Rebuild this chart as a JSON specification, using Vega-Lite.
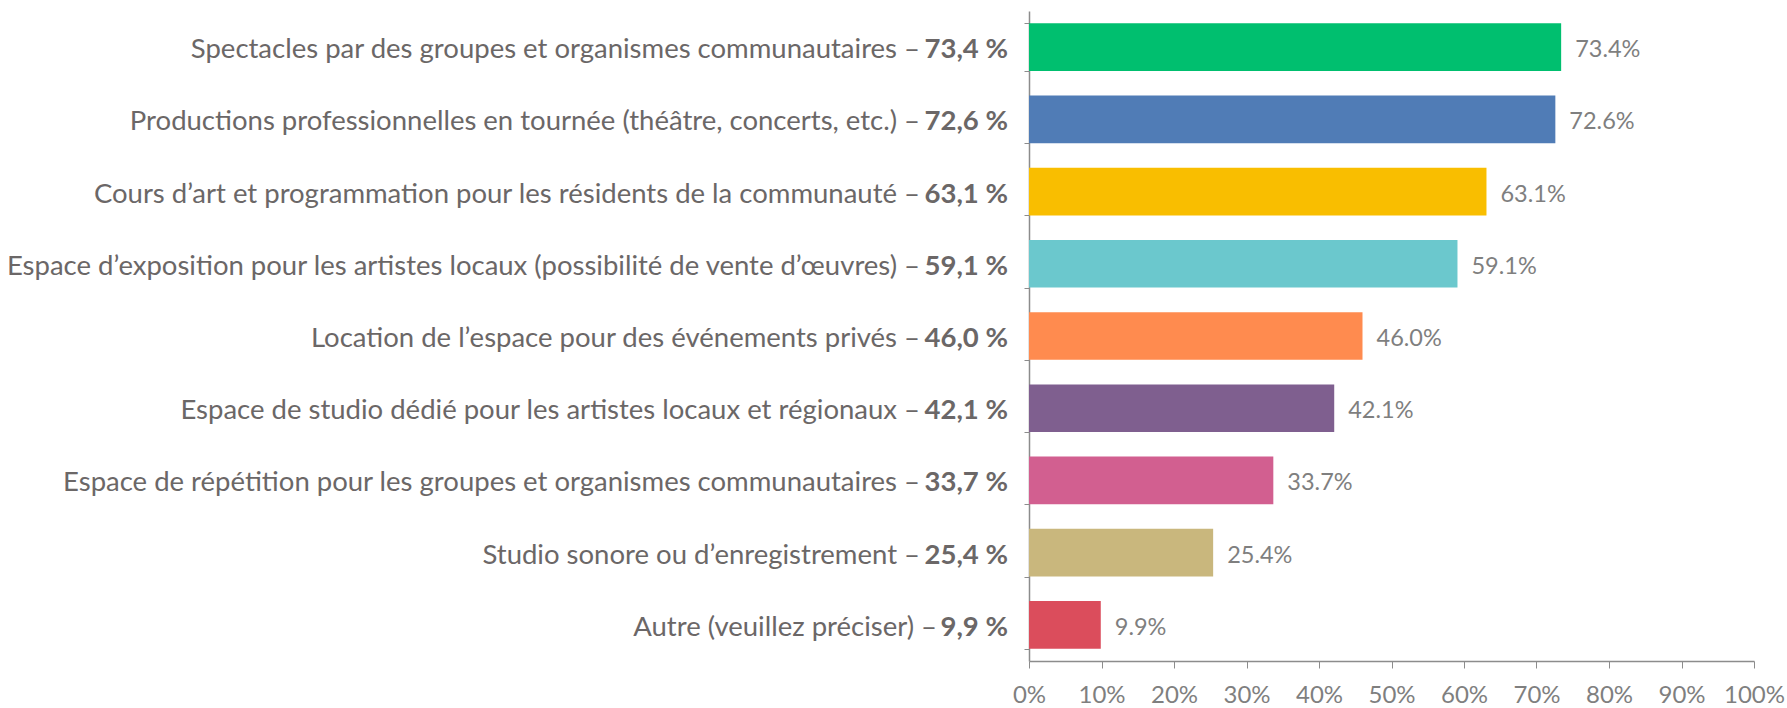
{
  "$schema": "https://vega.github.io/schema/vega-lite/v6.json",
  "width": 725,
  "height": 650,
  "autosize": {"type": "none"},
  "padding": {"left": 1029, "top": 11, "right": 33, "bottom": 47},
  "background": "white",
  "config": {"view": {"stroke": null}, "font": "Lato"},
  "data": {
    "values": [
      {"label": "Spectacles par des groupes et organismes communautaires", "v": 73.4},
      {"label": "Productions professionnelles en tournée (théâtre, concerts, etc.)", "v": 72.6},
      {"label": "Cours d’art et programmation pour les résidents de la communauté", "v": 63.1},
      {"label": "Espace d’exposition pour les artistes locaux (possibilité de vente d’œuvres)", "v": 59.1},
      {"label": "Location de l’espace pour des événements privés", "v": 46.0},
      {"label": "Espace de studio dédié pour les artistes locaux et régionaux", "v": 42.1},
      {"label": "Espace de répétition pour les groupes et organismes communautaires", "v": 33.7},
      {"label": "Studio sonore ou d’enregistrement", "v": 25.4},
      {"label": "Autre (veuillez préciser)", "v": 9.9}
    ]
  },
  "transform": [
    {"calculate": "format(datum.v, '.1f') + '%'", "as": "en"},
    {"calculate": "replace(format(datum.v, '.1f'), '.', ',') + ' %'", "as": "fr"},
    {"calculate": "datum.label + ' –'", "as": "lab"}
  ],
  "encoding": {
    "y": {
      "field": "label",
      "type": "nominal",
      "sort": null,
      "scale": {"paddingInner": 0.34, "paddingOuter": 0.17},
      "axis": {
        "labels": false,
        "title": null,
        "domainColor": "#8c8c8c",
        "domainWidth": 1.5,
        "tickColor": "#8c8c8c",
        "tickSize": 5,
        "tickBand": "extent",
        "bandPosition": 0
      }
    }
  },
  "layer": [
    {
      "mark": {"type": "bar"},
      "encoding": {
        "x": {
          "field": "v",
          "type": "quantitative",
          "scale": {"domain": [0, 100], "nice": false},
          "axis": {
            "title": null,
            "values": [0, 10, 20, 30, 40, 50, 60, 70, 80, 90, 100],
            "labelExpr": "datum.value + '%'",
            "labelOverlap": false,
            "labelBound": false,
            "labelFlush": false,
            "grid": false,
            "domainColor": "#8c8c8c",
            "domainWidth": 1.5,
            "tickColor": "#8c8c8c",
            "tickSize": 7,
            "labelPadding": 15,
            "labelFontSize": 24,
            "labelColor": "#7f7f7f",
            "labelFont": "Lato"
          }
        },
        "color": {
          "field": "label",
          "type": "nominal",
          "sort": null,
          "legend": null,
          "scale": {
            "range": ["#00bf6f", "#507cb6", "#f9be00", "#6bc8cd", "#ff8b4f", "#7f5f8f", "#d25f90", "#c9b77d", "#db4d5c"]
          }
        }
      }
    },
    {
      "mark": {"type": "text", "align": "left", "baseline": "middle", "dx": 14, "dy": 3, "fontSize": 23.5, "color": "#7f7f7f"},
      "encoding": {
        "x": {"field": "v", "type": "quantitative"},
        "text": {"field": "en"}
      }
    },
    {
      "mark": {"type": "text", "align": "right", "baseline": "middle", "dx": -21, "dy": 3, "fontSize": 27.5, "fontWeight": "bold", "color": "#6b6767"},
      "encoding": {
        "x": {"datum": 0, "type": "quantitative"},
        "text": {"field": "fr"}
      }
    },
    {
      "mark": {"type": "text", "align": "right", "baseline": "middle", "dx": {"expr": "length(datum.fr) > 5 ? -109 : -92"}, "dy": 3, "fontSize": 27.5, "color": "#6b6767"},
      "encoding": {
        "x": {"datum": 0, "type": "quantitative"},
        "text": {"field": "lab"}
      }
    }
  ]
}
